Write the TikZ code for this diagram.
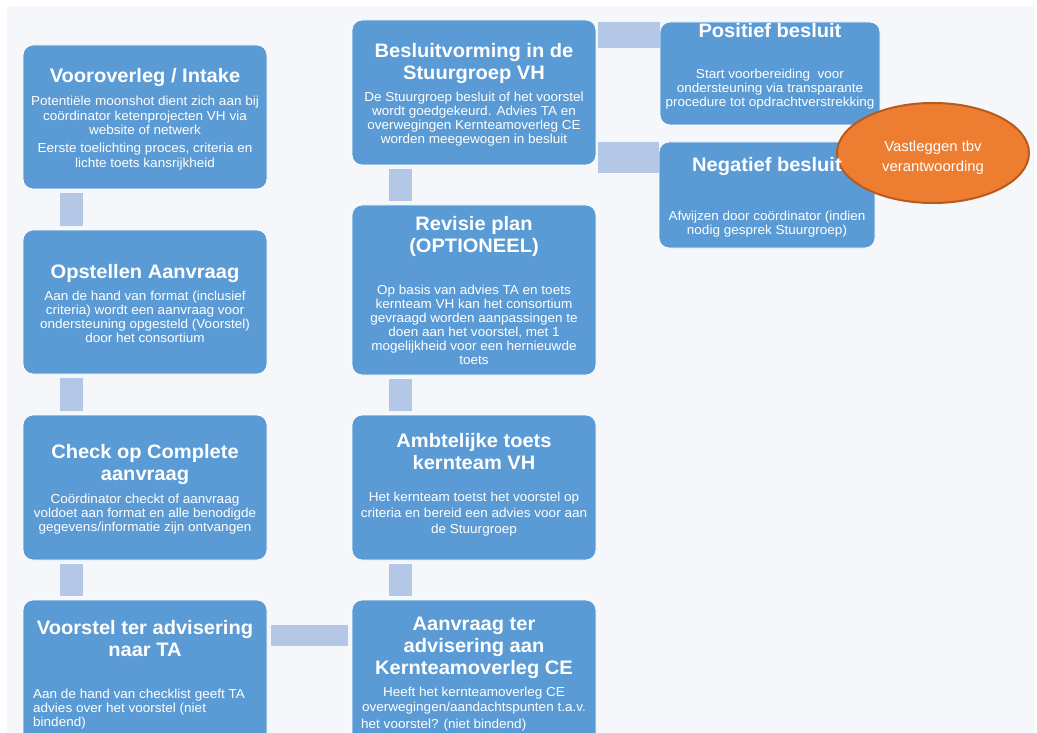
\documentclass[tikz,border=0pt]{standalone}
\usepackage{fontspec}
\setmainfont{Liberation Sans}
\usepackage{graphicx}
\usetikzlibrary{shapes.geometric,calc}
\definecolor{bgc}{HTML}{F5F7FA}
\definecolor{boxblue}{HTML}{5B9BD5}
\definecolor{connblue}{HTML}{B4C7E7}
\definecolor{orfill}{HTML}{ED7D31}
\definecolor{ordraw}{HTML}{B65A1E}
\newcommand\TT[2][c]{\scalebox{1.03}[1]{\fontsize{19.5}{22}\selectfont\bfseries\begin{tabular}{@{}#1@{}}#2\end{tabular}}}
\newcommand\BT[3][c]{\scalebox{1.04}[1]{\fontsize{13}{#2}\selectfont\begin{tabular}{@{}#1@{}}#3\end{tabular}}}
\tikzset{
  box/.style={rectangle, rounded corners=10pt, fill=boxblue, draw=white, line width=0.8pt, inner sep=0pt},
  vconn/.style={draw=connblue, line width=23pt, shorten <=4pt, shorten >=4pt},
  hconn/.style={draw=connblue, shorten <=2pt},
  txt/.style={text=white, inner sep=0pt}
}
\begin{document}
\begin{tikzpicture}[x=1pt,y=-1pt]
\useasboundingbox (0,0) rectangle (1037,733);
\clip (0,0) rectangle (1037,733);
\fill[bgc] (7,6) rectangle (1034,733);

% boxes
\node[box, minimum width=244pt, minimum height=144pt] (vo) at (145,117) {};
\node[box, minimum width=244pt, minimum height=144pt] (op) at (145,302) {};
\node[box, minimum width=244pt, minimum height=145pt] (ch) at (145,487.5) {};
\node[box, minimum width=244pt, minimum height=160pt] (vt) at (145,680) {};
\node[box, minimum width=244pt, minimum height=160pt] (aa) at (474,680) {};
\node[box, minimum width=244pt, minimum height=145pt] (am) at (474,487.5) {};
\node[box, minimum width=244pt, minimum height=170pt] (re) at (474,290) {};
\node[box, minimum width=244pt, minimum height=145pt] (be) at (474,92.5) {};
\node[box, minimum width=220pt, minimum height=103pt] (po) at (770,73.5) {};
\node[box, minimum width=216pt, minimum height=106pt] (ne) at (767,195) {};

% connectors
\draw[vconn] ([xshift=-73.5pt]vo.south) -- ([xshift=-73.5pt]op.north);
\draw[vconn] ([xshift=-73.5pt]op.south) -- ([xshift=-73.5pt]ch.north);
\draw[vconn] ([xshift=-73.5pt]ch.south) -- ([xshift=-73.5pt]vt.north);
\draw[vconn] ([xshift=-73.5pt]am.south) -- ([xshift=-73.5pt]aa.north);
\draw[vconn] ([xshift=-73.5pt]re.south) -- ([xshift=-73.5pt]am.north);
\draw[vconn] ([xshift=-73.5pt]be.south) -- ([xshift=-73.5pt]re.north);
\draw[hconn, line width=21pt, shorten <=4pt, shorten >=4pt] ([yshift=44.5pt]vt.east) -- ([yshift=44.5pt]vt.east -| aa.west);
\draw[hconn, line width=26pt] ([yshift=57.5pt]be.east) -- ([yshift=57.5pt]be.east -| po.west);
\draw[hconn, line width=31pt] ([yshift=-65pt]be.east) -- ([yshift=-65pt]be.east -| ne.west);

% ellipse
\node[ellipse, fill=orfill, draw=ordraw, line width=2pt, minimum width=192pt, minimum height=100pt, inner sep=0pt] (el) at (933,153) {};

% texts
\begin{scope}[shift={(0,2.5)}]
\node[txt] (vot) at (145,75.5) {\TT{Vooroverleg / Intake}};
\node[txt] (vob1) at (145,115) {\BT{14.5pt}{Potentiële moonshot dient zich aan bij\\coördinator ketenprojecten VH via\\website of netwerk}};
\node[txt] (vob2) at (145,154.5) {\BT{14.5pt}{Eerste toelichting proces, criteria en\\lichte toets kansrijkheid}};

\node[txt] (opt) at (145,271.5) {\TT{Opstellen Aanvraag}};
\node[txt] (opb) at (145,316) {\BT{14pt}{Aan de hand van format (inclusief\\criteria) wordt een aanvraag voor\\ondersteuning opgesteld (Voorstel)\\door het consortium}};

\node[txt] (cht) at (145,463) {\TT{Check op Complete\\aanvraag}};
\node[txt] (chb) at (145,512) {\BT{14pt}{Coördinator checkt of aanvraag\\voldoet aan format en alle benodigde\\gegevens/informatie zijn ontvangen}};

\node[txt] (vtt) at (145,639) {\TT{Voorstel ter advisering\\naar TA}};
\node[txt, anchor=west] (vtb) at (33,707) {\BT[l]{14pt}{Aan de hand van checklist geeft TA\\advies over het voorstel (niet\\bindend)}};

\node[txt] (aat) at (474,645.5) {\TT{Aanvraag ter\\advisering aan\\Kernteamoverleg CE}};
\node[txt] (aab) at (474,698) {\BT{15pt}{Heeft het kernteamoverleg CE\\overwegingen/aandachtspunten t.a.v.}};
\node[txt, anchor=west] (aab2) at (361,723) {\BT[l]{14pt}{het voorstel? (niet bindend)}};

\node[txt] (amt) at (474,451.5) {\TT{Ambtelijke toets\\kernteam VH}};
\node[txt] (amb) at (474,512) {\BT{16pt}{Het kernteam toetst het voorstel op\\criteria en bereid een advies voor aan\\de Stuurgroep}};

\node[txt] (ret) at (474,235) {\TT{Revisie plan\\(OPTIONEEL)}};
\node[txt] (reb) at (474,324.5) {\BT{14pt}{Op basis van advies TA en toets\\kernteam VH kan het consortium\\gevraagd worden aanpassingen te\\doen aan het voorstel, met 1\\mogelijkheid voor een hernieuwde\\toets}};

\node[txt] (bet) at (474,61.5) {\TT{Besluitvorming in de\\Stuurgroep VH}};
\node[txt] (beb) at (474,117) {\BT{14pt}{De Stuurgroep besluit of het voorstel\\wordt goedgekeurd. Advies TA en\\overwegingen Kernteamoverleg CE\\worden meegewogen in besluit}};

\node[txt] (pot) at (770,31) {\TT{Positief besluit}};
\node[txt] (pob) at (770,87.5) {\BT{14pt}{Start voorbereiding\ \ voor\\ondersteuning via transparante\\procedure tot opdrachtverstrekking}};

\node[txt] (net) at (767,164.5) {\TT{Negatief besluit}};
\node[txt] (neb) at (767,222) {\BT{14pt}{Afwijzen door coördinator (indien\\nodig gesprek Stuurgroep)}};

\node[txt] (elt) at (933,155) {\scalebox{1.02}[1]{\fontsize{14.6}{20}\selectfont\begin{tabular}{@{}c@{}}Vastleggen tbv\\verantwoording\end{tabular}}};
\end{scope}
\end{tikzpicture}
\end{document}
